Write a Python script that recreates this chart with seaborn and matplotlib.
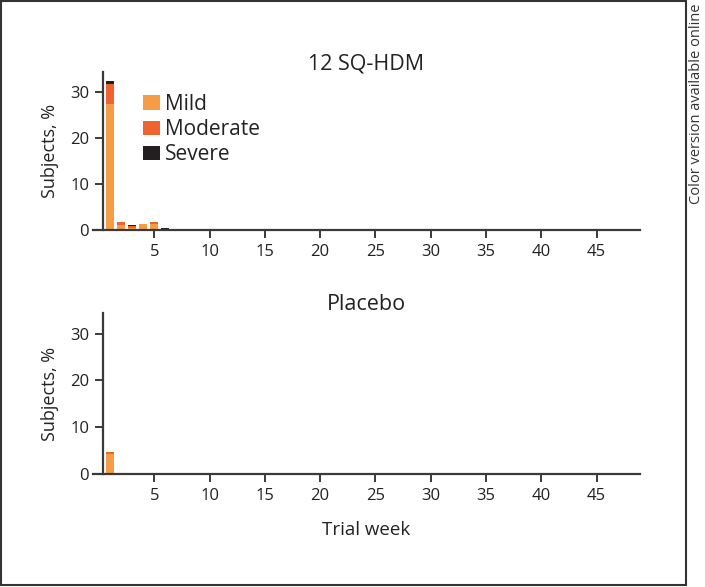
import matplotlib
matplotlib.use("Agg")
import matplotlib.pyplot as plt
from matplotlib.patches import Patch, Rectangle
import seaborn as sns
import pandas as pd

sns.set_theme(style="white")
plt.rcParams['font.family'] = ['Open Sans', 'DejaVu Sans']

# ---- data (percent of subjects per trial week) ----
severity_levels = ["Mild", "Moderate", "Severe"]
colors = {"Mild": "#F79C46", "Moderate": "#EE6430", "Severe": "#231F20"}

hdm_weeks    = [1, 2, 3, 4, 5, 6, 15]
hdm_mild     = [27.5, 1.0, 0.5, 1.2, 1.4, 0.1, 0.0]
hdm_moderate = [4.3, 0.8, 0.3, 0.0, 0.3, 0.1, 0.15]
hdm_severe   = [0.7, 0.0, 0.2, 0.0, 0.0, 0.3, 0.0]

pbo_weeks    = [1, 5]
pbo_mild     = [4.2, 0.2]
pbo_moderate = [0.5, 0.0]
pbo_severe   = [0.0, 0.0]

xticks = [5, 10, 15, 20, 25, 30, 35, 40, 45]
yticks = [0, 10, 20, 30]


def to_long(weeks, mild, moderate, severe):
    rows = []
    for w, a, b, c in zip(weeks, mild, moderate, severe):
        rows.append((w, "Mild", a))
        rows.append((w, "Moderate", b))
        rows.append((w, "Severe", c))
    return pd.DataFrame(rows, columns=["week", "severity", "pct"])


df_hdm = to_long(hdm_weeks, hdm_mild, hdm_moderate, hdm_severe)
df_pbo = to_long(pbo_weeks, pbo_mild, pbo_moderate, pbo_severe)

fig = plt.figure(figsize=(7.05, 5.87), dpi=100)
ax1 = fig.add_axes([93 / 705, 1 - 230 / 587, (640 - 93) / 705, (230 - 72) / 587])
ax2 = fig.add_axes([93 / 705, 1 - 474 / 587, (640 - 93) / 705, (474 - 313) / 587])

spine_col = "#3a3a3a"
text_col = "#222222"
for ax, df, title in [(ax1, df_hdm, "12 SQ-HDM"), (ax2, df_pbo, "Placebo")]:
    sns.histplot(data=df, x="week", weights="pct", hue="severity",
                 hue_order=["Severe", "Moderate", "Mild"], multiple="stack",
                 discrete=True, shrink=0.7, palette=colors, linewidth=0,
                 alpha=1, legend=False, ax=ax)
    ax.set_xlim(1 + (93 - 110) / 11.06, 1 + (640 - 110) / 11.06)
    ax.set_ylim(0, 34.4)
    ax.set_xticks(xticks)
    ax.set_yticks(yticks)
    ax.spines["right"].set_visible(False)
    ax.spines["top"].set_visible(False)
    ax.spines["left"].set_position(("data", 1 + (103 - 110) / 11.06))
    for s in ("left", "bottom"):
        ax.spines[s].set_color(spine_col)
        ax.spines[s].set_linewidth(1.6)
    ax.tick_params(axis="both", direction="out", length=6, width=1.4,
                   color=spine_col, labelsize=12, labelcolor=text_col, pad=4,
                   left=True, bottom=True)
    ax.set_ylabel("Subjects, %", fontsize=13, color=text_col, labelpad=8)
    ax.set_xlabel("")
    ax.set_title(title, fontsize=15.5, color=text_col, pad=2)
    ax.patch.set_alpha(0)

ax2.set_xlabel("Trial week", fontsize=13.5, color=text_col, labelpad=12)

handles = [Patch(facecolor=colors[s], edgecolor="none") for s in severity_levels]
ax1.legend(handles, severity_levels, loc="upper left",
           bbox_to_anchor=(143 / 705, 1 - 94 / 587), bbox_transform=fig.transFigure,
           frameon=False, fontsize=15, handlelength=0.8, handleheight=0.7,
           handletextpad=0.25, labelspacing=0.2, borderaxespad=0, borderpad=0,
           labelcolor=text_col)

fig.patches.append(Rectangle((1 / 705, 2 / 587), 685 / 705, 584 / 587,
                             transform=fig.transFigure, fill=False,
                             edgecolor="#333333", linewidth=1.5))
fig.text(697 / 705, 1 - 4 / 587, "Color version available online", rotation=90,
         ha="center", va="top", fontsize=10.5, color="#333333")

fig.savefig("out.png", dpi=100)
